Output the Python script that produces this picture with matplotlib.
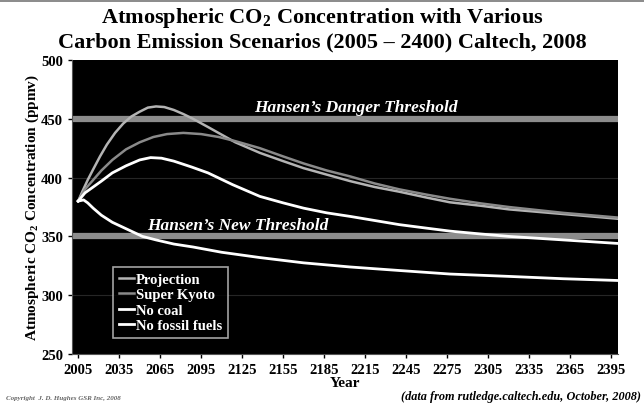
import matplotlib
matplotlib.use("Agg")
import matplotlib.pyplot as plt

plt.rcParams['font.family'] = ['Liberation Serif', 'DejaVu Serif']
plt.rcParams['font.weight'] = 'bold'
plt.rcParams['mathtext.fontset'] = 'custom'
plt.rcParams['mathtext.rm'] = 'Liberation Serif:bold'
plt.rcParams['mathtext.it'] = 'Liberation Serif:bold'

# values
proj_years = [2005, 2008, 2012, 2016, 2021, 2026, 2032, 2038, 2044, 2050, 2056,
              2062, 2068, 2075, 2082, 2089, 2100, 2110, 2120, 2138, 2155, 2170,
              2187, 2204, 2222, 2240, 2260, 2277, 2300, 2320, 2340, 2360, 2380, 2400]
proj_ppm = [380, 388, 398, 407, 418, 428, 438, 446, 452, 456, 459.5,
            460.5, 460, 457.5, 454, 450, 443, 436.5, 430, 421, 414, 408,
            402.5, 397, 392, 388, 383, 379, 376, 373, 371, 369, 367, 365]

kyoto_years = [2005, 2010, 2016, 2022, 2030, 2040, 2050, 2060, 2070, 2082,
               2095, 2108, 2120, 2138, 2155, 2170, 2187, 2204, 2222, 2240,
               2260, 2277, 2300, 2320, 2340, 2360, 2380, 2400]
kyoto_ppm = [380, 390, 398, 406, 415, 424, 430, 434.5, 437, 438,
             437, 434.5, 431, 425, 418, 412, 406, 401, 395, 390,
             385.5, 382, 378, 375, 372.5, 370, 368, 366]

coal_years = [2005, 2010, 2016, 2022, 2030, 2040, 2050, 2058, 2066, 2075,
              2088, 2100, 2118, 2138, 2155, 2170, 2187, 2204, 2222, 2240,
              2260, 2277, 2300, 2320, 2340, 2360, 2380, 2400]
coal_ppm = [380, 387, 392, 397, 404, 410, 415, 417, 416.5, 414,
            409, 404, 394, 384, 378.5, 374, 370, 367, 363.5, 360,
            357, 354.5, 352, 350, 348.5, 347, 345.5, 344]

fossil_years = [2005, 2009, 2012, 2016, 2022, 2030, 2041, 2052, 2062, 2075,
                2089, 2110, 2138, 2170, 2204, 2240, 2277, 2320, 2360, 2400]
fossil_ppm = [380, 381, 378.5, 374, 368, 362, 356, 350, 347, 343.5,
              341, 336.5, 332, 327.5, 324, 321, 318, 316, 314, 312.5]

thresholds = [450, 350]
threshold_labels = ["Hansen\u2019s Danger Threshold", "Hansen\u2019s New Threshold"]
x_ticks = list(range(2005, 2400, 30))
y_ticks = [250, 300, 350, 400, 450, 500]

fig = plt.figure(figsize=(6.44, 4.06), dpi=100)
ax = fig.add_axes([0.1118, 0.1256, 0.8478, 0.7242])
ax.set_facecolor('black')

# faint grid lines
for y in [300, 400]:
    ax.axhline(y, color='#262626', linewidth=0.8, zorder=1)

# threshold bands
for y in thresholds:
    ax.axhline(y, color='#8c8c8c', linewidth=4.5, zorder=2)

ax.plot(proj_years, proj_ppm, color='#b4b4b4', linewidth=1.8, label='Projection', zorder=3)
ax.plot(kyoto_years, kyoto_ppm, color='#8a8a8a', linewidth=1.8, label='Super Kyoto', zorder=3)
ax.plot(coal_years, coal_ppm, color='white', linewidth=2.0, label='No coal', zorder=4)
ax.plot(fossil_years, fossil_ppm, color='white', linewidth=2.0, label='No fossil fuels', zorder=4)

ax.text(2208, 453, threshold_labels[0], color='white', fontsize=12.5,
        fontweight='bold', fontstyle='italic', ha='center', va='bottom', zorder=5)
ax.text(2122, 353, threshold_labels[1], color='white', fontsize=12.5,
        fontweight='bold', fontstyle='italic', ha='center', va='bottom', zorder=5)

ax.set_xlim(2000.5, 2400)
ax.set_ylim(250, 500)
ax.set_xticks(x_ticks)
ax.set_yticks(y_ticks)
ax.tick_params(axis='both', labelsize=10.5, colors='black', length=3, width=1)
for lab in ax.get_xticklabels() + ax.get_yticklabels():
    lab.set_fontweight('bold')
for s in ['left', 'bottom']:
    ax.spines[s].set_color('#555555')
for s in ['top', 'right']:
    ax.spines[s].set_visible(False)

ax.set_xlabel('Year', fontsize=11, fontweight='bold', labelpad=0)
ax.set_ylabel('Atmospheric CO$_2$ Concentration (ppmv)', fontsize=11,
              fontweight='bold', labelpad=0)

leg = ax.legend(loc='lower left', bbox_to_anchor=(0.062, 0.03), frameon=True,
                fontsize=10.5, handlelength=1.0, handletextpad=0.15,
                borderpad=0.4, labelspacing=0.15, fancybox=False)
leg.get_frame().set_facecolor('black')
leg.get_frame().set_edgecolor('#cccccc')
leg.get_frame().set_linewidth(1.2)
for t in leg.get_texts():
    t.set_color('white')
    t.set_fontweight('bold')

fig.text(0.5, 0.955, 'Atmospheric CO$_2$ Concentration with Various', ha='center',
         va='center', fontsize=16, fontweight='bold')
fig.text(0.5, 0.895, 'Carbon Emission Scenarios (2005 \u2013 2400) Caltech, 2008',
         ha='center', va='center', fontsize=16, fontweight='bold')
fig.add_artist(plt.Line2D([0.0, 1.0], [0.995, 0.995], color='#777777', linewidth=1.2))

fig.text(0.01, 0.018, 'Copyright  J. D. Hughes GSR Inc, 2008', fontsize=5,
         fontstyle='italic', color='#666666', ha='left', va='center')
fig.text(0.995, 0.022, '(data from rutledge.caltech.edu, October, 2008)', fontsize=8.8,
         fontstyle='italic', fontweight='bold', ha='right', va='center')

fig.savefig('out.png', dpi=100)
